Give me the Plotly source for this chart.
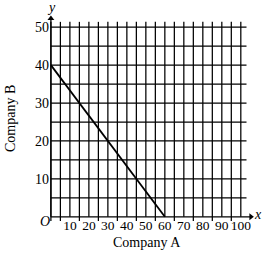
import plotly.graph_objects as go

# Data
company_a = [0, 60]
company_b = [40, 0]
x_ticks = [10, 20, 30, 40, 50, 60, 70, 80, 90, 100]
y_ticks = [10, 20, 30, 40, 50]
x_grid = list(range(0, 101, 5))
y_grid = list(range(5, 51, 5))

FONT = "Liberation Serif"
X_RANGE = [-1, 108]
Y_RANGE = [-1.1, 54]
L, R, T, B = 49, 14, 12, 34
W, H = 270, 255
PW, PH = W - L - R, H - T - B


def px(x):
    return (x - L) / PW


def py(y):
    return 1 - (y - T) / PH


fig = go.Figure()

shapes = []
for gx in x_grid:
    bottom = 0 if (gx % 10 == 0 and gx != 0) else -1.1
    shapes.append(dict(type="line", xref="x", yref="y", x0=gx, x1=gx, y0=bottom, y1=51.4,
                       line=dict(color="black", width=1.25), layer="below"))
for gy in y_grid:
    shapes.append(dict(type="line", xref="x", yref="y", x0=0, x1=103, y0=gy, y1=gy,
                       line=dict(color="black", width=1.25), layer="below"))
# axes
shapes.append(dict(type="line", xref="x", yref="y", x0=0, x1=0, y0=0, y1=52.3,
                   line=dict(color="black", width=1.3), layer="below"))
shapes.append(dict(type="line", xref="x", yref="y", x0=0, x1=105, y0=0, y1=0,
                   line=dict(color="black", width=1.3), layer="below"))

fig.add_trace(go.Scatter(x=company_a, y=company_b, mode="lines",
                         line=dict(color="black", width=1.8), showlegend=False,
                         hoverinfo="skip"))
# arrow heads
fig.add_trace(go.Scatter(x=[0], y=[52.3], mode="markers", cliponaxis=False,
                         marker=dict(symbol="triangle-up", size=6, color="black"),
                         showlegend=False, hoverinfo="skip"))
fig.add_trace(go.Scatter(x=[105.3], y=[0], mode="markers", cliponaxis=False,
                         marker=dict(symbol="triangle-right", size=6, color="black"),
                         showlegend=False, hoverinfo="skip"))

tf = dict(family=FONT, size=14, color="black")
common = dict(xref="paper", yref="paper", showarrow=False, font=tf,
              xanchor="center", yanchor="middle")
annotations = [
    dict(x=px(51), y=py(8), text="<i>y</i>", **common),
    dict(x=px(258), y=py(214), text="<i>x</i>", **common),
    dict(x=px(44.5), y=py(222), text="<i>O</i>", **common),
    dict(x=px(146.5), y=py(242), text="Company A", **common),
    dict(x=px(10), y=py(119), text="Company B", textangle=-90, **common),
]

fig.update_layout(
    width=W, height=H,
    margin=dict(l=L, r=R, t=T, b=B),
    paper_bgcolor="white", plot_bgcolor="white",
    shapes=shapes, annotations=annotations,
    font=dict(family=FONT, size=13, color="black"),
    xaxis=dict(range=X_RANGE, tickvals=x_ticks, ticktext=[str(v) for v in x_ticks],
               showgrid=False, zeroline=False, showline=False, ticks="", tickangle=0,
               ticklabelstandoff=-6, tickfont=dict(family=FONT, size=13.5, color="black")),
    yaxis=dict(range=Y_RANGE, tickvals=y_ticks, ticktext=[str(v) for v in y_ticks],
               showgrid=False, zeroline=False, showline=False, ticks="",
               ticklabelstandoff=-1, tickfont=dict(family=FONT, size=14, color="black")),
)

fig.write_html("out.html")
